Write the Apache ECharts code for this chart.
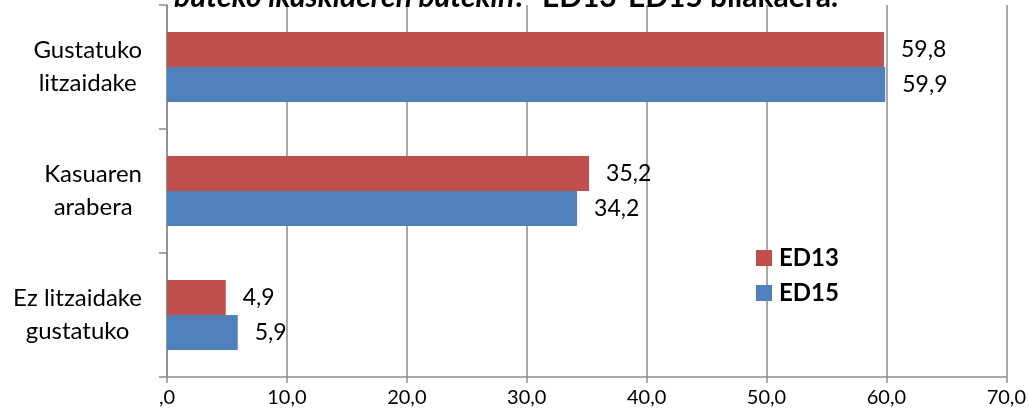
<!DOCTYPE html>
<html>
<head>
<meta charset="utf-8">
<script src="https://cdn.jsdelivr.net/npm/echarts@6/dist/echarts.min.js"></script>
<style>
  html, body { margin: 0; padding: 0; background: #fff; }
  #chart { width: 1029px; height: 417px; }
</style>
</head>
<body>
<div id="chart"></div>
<script>
// Answer categories (top to bottom)
const categories = ['Gustatuko\nlitzaidake', 'Kasuaren\narabera', 'Ez litzaidake\ngustatuko'];
// Percentages per survey wave
const ed13 = [59.8, 35.2, 4.9];
const ed15 = [59.9, 34.2, 5.9];
// X axis tick labels (0..70 step 10)
const tickLabels = [',0', '10,0', '20,0', '30,0', '40,0', '50,0', '60,0', '70,0'];

const FONT = 'Lato, "Open Sans", sans-serif';
const AXIS_GREY = '#8c8c8c';

const fmt = v => String(v).replace('.', ',');

const chart = echarts.init(document.getElementById('chart'));
chart.setOption({
  animation: false,
  backgroundColor: '#fff',
  textStyle: { fontFamily: FONT, color: '#000' },
  title: {
    text: '{i|buteko ikaskideren batekin?"} {b|ED13-ED15 bilakaera.}',
    left: 506,
    textAlign: 'center',
    top: -21,
    padding: 0,
    textStyle: {
      rich: {
        i: { fontFamily: FONT, fontSize: 30, lineHeight: 36, fontWeight: 'bold', fontStyle: 'italic', color: '#000' },
        b: { fontFamily: FONT, fontSize: 30, lineHeight: 36, fontWeight: 'bold', color: '#000' }
      }
    }
  },
  grid: { left: 167, right: 22, top: 5, bottom: 40, containLabel: false },
  legend: {
    orient: 'vertical',
    left: 756,
    top: 246,
    padding: 0,
    itemWidth: 16,
    itemHeight: 16,
    itemGap: 11,
    icon: 'rect',
    textStyle: { fontFamily: FONT, fontSize: 24, fontWeight: 'bold', color: '#000', padding: [0, 0, 0, 2] },
    data: ['ED13', 'ED15']
  },
  xAxis: {
    type: 'value',
    min: 0,
    max: 70,
    interval: 10,
    axisLine: { show: true, lineStyle: { color: AXIS_GREY, width: 1.5 } },
    axisTick: { show: true, length: 6, lineStyle: { color: AXIS_GREY, width: 1.5 } },
    splitLine: { show: true, lineStyle: { color: AXIS_GREY, width: 1.5 } },
    axisLabel: {
      fontFamily: FONT,
      fontSize: 20,
      color: '#000',
      margin: 11,
      formatter: v => tickLabels[Math.round(v / 10)]
    }
  },
  yAxis: {
    type: 'category',
    inverse: true,
    data: categories,
    axisLine: { show: true, lineStyle: { color: AXIS_GREY, width: 1.5 } },
    axisTick: { show: true, length: 8, lineStyle: { color: AXIS_GREY, width: 1.5 } },
    splitLine: { show: false },
    axisLabel: {
      align: 'right',
      margin: 25,
      formatter: v => '{c|' + v + '}',
      rich: {
        c: { align: 'center', fontFamily: FONT, fontSize: 24, lineHeight: 33, color: '#000' }
      }
    }
  },
  series: [
    {
      name: 'ED13',
      type: 'bar',
      data: ed13,
      barGap: '0%',
      barCategoryGap: '43.5%',
      itemStyle: { color: '#C0504D' },
      label: {
        show: true, position: 'right', distance: 17,
        fontFamily: FONT, fontSize: 23, color: '#000',
        formatter: p => fmt(p.value)
      }
    },
    {
      name: 'ED15',
      type: 'bar',
      data: ed15,
      barGap: '0%',
      barCategoryGap: '43.5%',
      itemStyle: { color: '#4F81BD' },
      label: {
        show: true, position: 'right', distance: 17,
        fontFamily: FONT, fontSize: 23, color: '#000',
        formatter: p => fmt(p.value)
      }
    }
  ]
});
</script>
</body>
</html>
